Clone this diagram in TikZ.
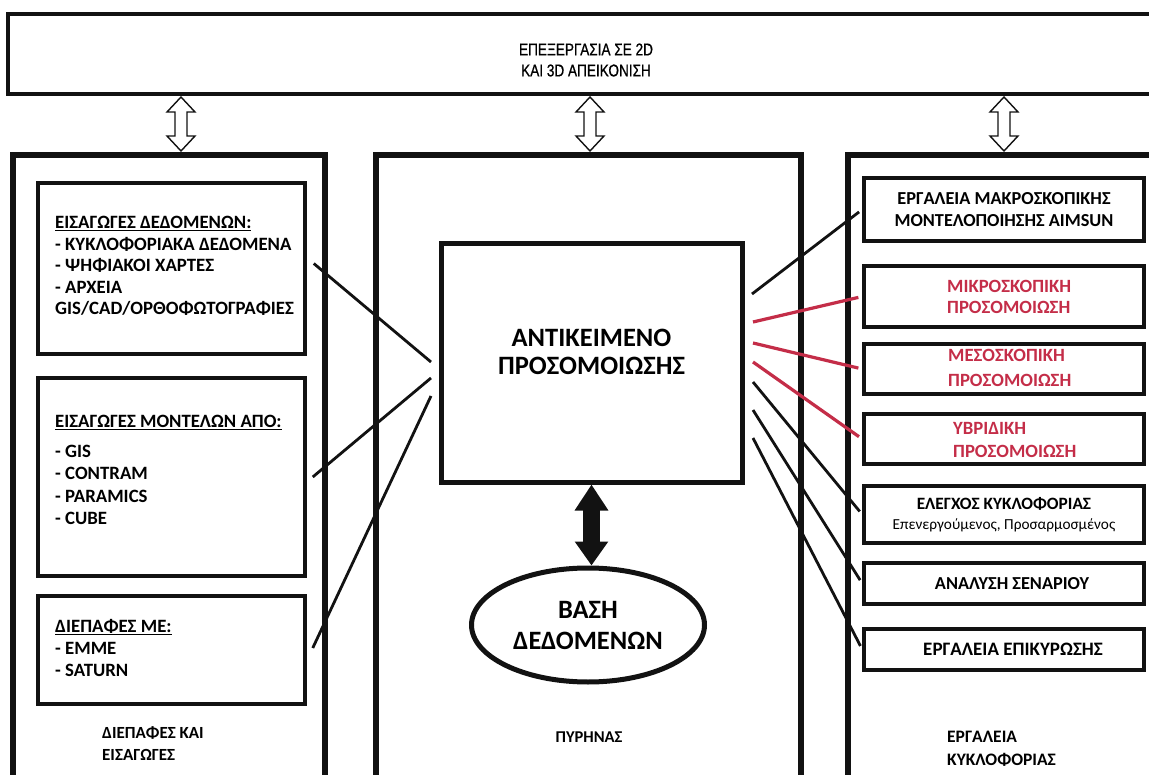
\documentclass[tikz,border=0pt]{standalone}
\usepackage{fontspec}
\setmainfont{Carlito}
\newfontfamily\narrowfont[FakeStretch=0.8,FakeBold=0.7]{Liberation Sans}
\usetikzlibrary{calc,shapes.geometric,arrows.meta}
\definecolor{simred}{RGB}{196,45,72}
\definecolor{ink}{RGB}{18,18,18}

\tikzset{
  panel/.style={draw=ink,line width=5.5pt,rectangle,inner sep=0pt},
  itembox/.style={draw=ink,line width=3.5pt,rectangle,inner sep=0pt,align=center,
    font=\bfseries\fontsize{18.3}{23}\selectfont},
  tag/.style={inner sep=0pt,anchor=north west,align=left,
    font=\bfseries\fontsize{18.8}{21.5}\selectfont},
  link/.style={draw=ink,line width=2.8pt},
  redlink/.style={link,draw=simred,line width=3.2pt},
  hollow/.style={draw=ink,line width=1.4pt,fill=white,line join=miter},
  pics/twoway/.style={code={
    \path[hollow] (0,0) -- (14,15) -- (6,15) -- (6,39) -- (14,39) -- (0,54)
      -- (-14,39) -- (-6,39) -- (-6,15) -- (-14,15) -- cycle;}}
}

\begin{document}
\begin{tikzpicture}[x=1pt,y=-1pt]
\useasboundingbox (0,0) rectangle (1149,775);
\fill[white] (0,0) rectangle (1149,775);
\clip (0,0) rectangle (1149,775);

% ---- top strip: 2D / 3D processing
\node[panel,line width=4pt,minimum width=1162pt,minimum height=80pt] (topbox) at (589,54) {};
\node[font=\narrowfont\fontsize{17}{21}\selectfont,align=center] (toptext) at (586,60)
  {ΕΠΕΞΕΡΓΑΣΙΑ ΣΕ 2D\\ΚΑΙ 3D ΑΠΕΙΚΟΝΙΣΗ};

% ---- three columns
\node[panel,minimum width=312pt,minimum height=645pt] (lpanel) at (169,477.5) {};
\node[panel,minimum width=425pt,minimum height=645pt] (cpanel) at (588.5,477.5) {};
\node[panel,minimum width=322pt,minimum height=645pt] (rpanel) at (1009,477.5) {};

% ---- hollow two-way arrows between the strip and the columns
\coordinate (up1) at (181,97);
\coordinate (up2) at (590,97);
\coordinate (up3) at (1004,97);
\pic at (up1) {twoway};
\pic at (up2) {twoway};
\pic at (up3) {twoway};

% ---- left column: interfaces and imports
\node[itembox,minimum width=267pt,minimum height=171pt] (in1) at (171.5,268.5) {};
\node[itembox,minimum width=267pt,minimum height=198pt] (in2) at (171.5,477) {};
\node[itembox,minimum width=267pt,minimum height=108pt] (in3) at (171.5,650) {};

\node[tag] (in1t) at (55,216)
  {\underline{ΕΙΣΑΓΩΓΕΣ ΔΕΔΟΜΕΝΩΝ:}\\- ΚΥΚΛΟΦΟΡΙΑΚΑ ΔΕΔΟΜΕΝΑ\\- ΨΗΦΙΑΚΟΙ ΧΑΡΤΕΣ\\- ΑΡΧΕΙΑ\\GIS/CAD/ΟΡΘΟΦΩΤΟΓΡΑΦΙΕΣ};
\node[tag,font=\bfseries\fontsize{18.8}{22.5}\selectfont] (in2t) at (55,415)
  {\underline{ΕΙΣΑΓΩΓΕΣ ΜΟΝΤΕΛΩΝ ΑΠΟ:}\\[7pt]- GIS\\- CONTRAM\\- PARAMICS\\- CUBE};
\node[tag,font=\bfseries\fontsize{18.8}{22}\selectfont] (in3t) at (55,619)
  {\underline{ΔΙΕΠΑΦΕΣ ΜΕ:}\\- EMME\\- SATURN};
\node[tag,font=\bfseries\fontsize{17}{22}\selectfont] (lcap) at (102,726)
  {ΔΙΕΠΑΦΕΣ ΚΑΙ\\ΕΙΣΑΓΩΓΕΣ};

% ---- centre column: core
\node[draw=ink,line width=5pt,rectangle,inner sep=0pt,minimum width=301pt,minimum height=238pt] (core) at (591.5,363) {};
\node[font=\bfseries\fontsize{26.5}{28}\selectfont,align=center] (coretext) at (591.5,351.5)
  {ΑΝΤΙΚΕΙΜΕΝΟ\\ΠΡΟΣΟΜΟΙΩΣΗΣ};
\node[draw=ink,ellipse,line width=5pt,inner sep=0pt,minimum width=233pt,minimum height=114pt,
  align=center,font=\bfseries\fontsize{26.5}{31}\selectfont] (db) at (588,625) {ΒΑΣΗ\\ΔΕΔΟΜΕΝΩΝ};
\draw[ink,line width=17pt,{Triangle[length=26pt,width=32pt]}-{Triangle[length=24pt,width=32pt]}]
  (core.south) -- (core.south |- db.north);
\node[font=\bfseries\fontsize{16.5}{18}\selectfont] (ccap) at (589,737) {ΠΥΡΗΝΑΣ};

% ---- right column: traffic tools
\node[itembox,minimum width=280pt,minimum height=63pt] (m1) at (1004,209.5)
  {ΕΡΓΑΛΕΙΑ ΜΑΚΡΟΣΚΟΠΙΚΗΣ\\[-1pt]ΜΟΝΤΕΛΟΠΟΙΗΣΗΣ AIMSUN};
\node[itembox,minimum width=280pt,minimum height=61pt] (m2) at (1004,296.5) {};
\node[itembox,minimum width=280pt,minimum height=50pt] (m3) at (1004,369) {};
\node[itembox,minimum width=280pt,minimum height=50pt] (m4) at (1004,439) {};
\node[itembox,minimum width=280pt,minimum height=57pt] (m5) at (1004,514.5)
  {{\fontsize{17.3}{20}\selectfont ΕΛΕΓΧΟΣ ΚΥΚΛΟΦΟΡΙΑΣ}\\[-3pt]{\mdseries\fontsize{15.3}{19}\selectfont Επενεργούμενος, Προσαρμοσμένος}};
\node[itembox,minimum width=280pt,minimum height=41pt] (m6) at (1004,583.5) {\hspace*{16pt}ΑΝΑΛΥΣΗ ΣΕΝΑΡΙΟΥ};
\node[itembox,minimum width=280pt,minimum height=41pt,font=\bfseries\fontsize{19}{23}\selectfont] (m7) at (1004,649.5) {\hspace*{18pt}ΕΡΓΑΛΕΙΑ ΕΠΙΚΥΡΩΣΗΣ};

\node[tag,text=simred,font=\bfseries\fontsize{18.7}{21}\selectfont] (m2t) at (947,280)
  {ΜΙΚΡΟΣΚΟΠΙΚΗ\\ΠΡΟΣΟΜΟΙΩΣΗ};
\node[tag,text=simred,font=\bfseries\fontsize{18.7}{25}\selectfont] (m3t) at (948,349)
  {ΜΕΣΟΣΚΟΠΙΚΗ\\ΠΡΟΣΟΜΟΙΩΣΗ};
\node[tag,text=simred,font=\bfseries\fontsize{18.7}{23}\selectfont] (m4t) at (953,422)
  {ΥΒΡΙΔΙΚΗ\\ΠΡΟΣΟΜΟΙΩΣΗ};
\node[tag,font=\bfseries\fontsize{17.5}{23}\selectfont] (rcap) at (947,731)
  {ΕΡΓΑΛΕΙΑ\\ΚΥΚΛΟΦΟΡΙΑΣ};

% ---- fan points beside the core box
\coordinate (lf1) at (431,362);
\coordinate (lf2) at (431,378);
\coordinate (lf3) at (431,396);
\coordinate (rf1) at (752,294);
\coordinate (rf2) at (753,322);
\coordinate (rf3) at (753,343);
\coordinate (rf4) at (753,362);
\coordinate (rf5) at (753,382);
\coordinate (rf6) at (753,410);
\coordinate (rf7) at (753,438);

% ---- connectors
\draw[link] ([shift={(7,-5)}]in1.east) -- (lf1);
\draw[link] ([shift={(6,0)}]in2.east) -- (lf2);
\draw[link] ([shift={(6,-2)}]in3.east) -- (lf3);

\draw[link,shorten >=4pt] (rf1) -- (m1.west);
\draw[redlink,shorten >=4pt] (rf2) -- (m2.west);
\draw[redlink,shorten >=4pt] (rf3) -- (m3.west);
\draw[redlink,shorten >=4pt] (rf4) -- (m4.west);
\draw[link,shorten >=4pt] (rf5) -- (m5.west);
\draw[link,shorten >=4pt] (rf6) -- (m6.west);
\draw[link,shorten >=4pt] (rf7) -- (m7.west);
\end{tikzpicture}
\end{document}
